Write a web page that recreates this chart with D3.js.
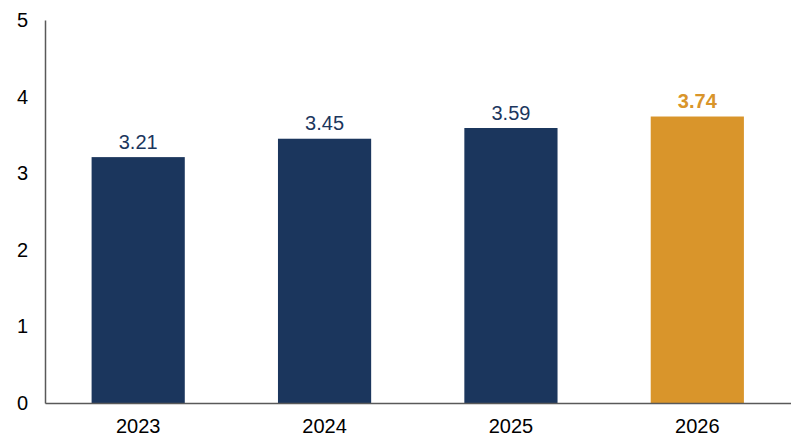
<!DOCTYPE html>
<html><head><meta charset="utf-8">
<script src="https://cdn.jsdelivr.net/npm/d3@7"></script>
<style>html,body{margin:0;padding:0;background:#fff;}svg{display:block;font-family:"Liberation Sans",Arial,sans-serif;}</style>
</head><body>
<svg id="c" width="800" height="447"></svg>
<script>
const categories = ["2023", "2024", "2025", "2026"];
const values = [3.21, 3.45, 3.59, 3.74];
const yTicks = [0, 1, 2, 3, 4, 5];
const highlight = "2026";

const svg = d3.select("#c");
const x = d3.scaleBand().domain(categories).range([45, 790.5]).paddingInner(0.5).paddingOuter(0.25);
const y = d3.scaleLinear().domain([0, 5]).range([403, 20]);
const navy = "#1b365d", gold = "#d9952b";

svg.selectAll("rect.bar").data(categories).enter().append("rect")
  .attr("class", "bar")
  .attr("x", d => x(d)).attr("width", x.bandwidth())
  .attr("y", (d, i) => y(values[i])).attr("height", (d, i) => y(0) - y(values[i]))
  .attr("fill", d => d === highlight ? gold : navy);

svg.selectAll("text.val").data(categories).enter().append("text")
  .attr("class", "val")
  .attr("x", d => x(d) + x.bandwidth() / 2)
  .attr("y", (d, i) => y(values[i]) - 8.5)
  .attr("text-anchor", "middle")
  .attr("font-size", 20)
  .attr("font-weight", d => d === highlight ? "bold" : "normal")
  .attr("fill", d => d === highlight ? gold : navy)
  .text((d, i) => values[i].toFixed(2));

// y axis
const yAxis = d3.axisLeft(y).tickValues(yTicks).tickSize(0).tickPadding(17).tickFormat(d3.format("d"));
const gy = svg.append("g").attr("transform", "translate(45,0)").call(yAxis);
gy.select(".domain").attr("stroke", "#595959").attr("stroke-width", 1.5);
gy.selectAll("text").attr("font-size", 20).attr("fill", "#000").attr("font-family", "Liberation Sans, Arial, sans-serif");

// x axis
const xAxis = d3.axisBottom(x).tickSize(0).tickPadding(16);
const gx = svg.append("g").attr("transform", "translate(0,403)").call(xAxis);
gx.select(".domain").attr("stroke", "#595959").attr("stroke-width", 1.5);
gx.selectAll("text").attr("font-size", 20).attr("fill", "#000").attr("font-family", "Liberation Sans, Arial, sans-serif");
</script>
</body></html>
